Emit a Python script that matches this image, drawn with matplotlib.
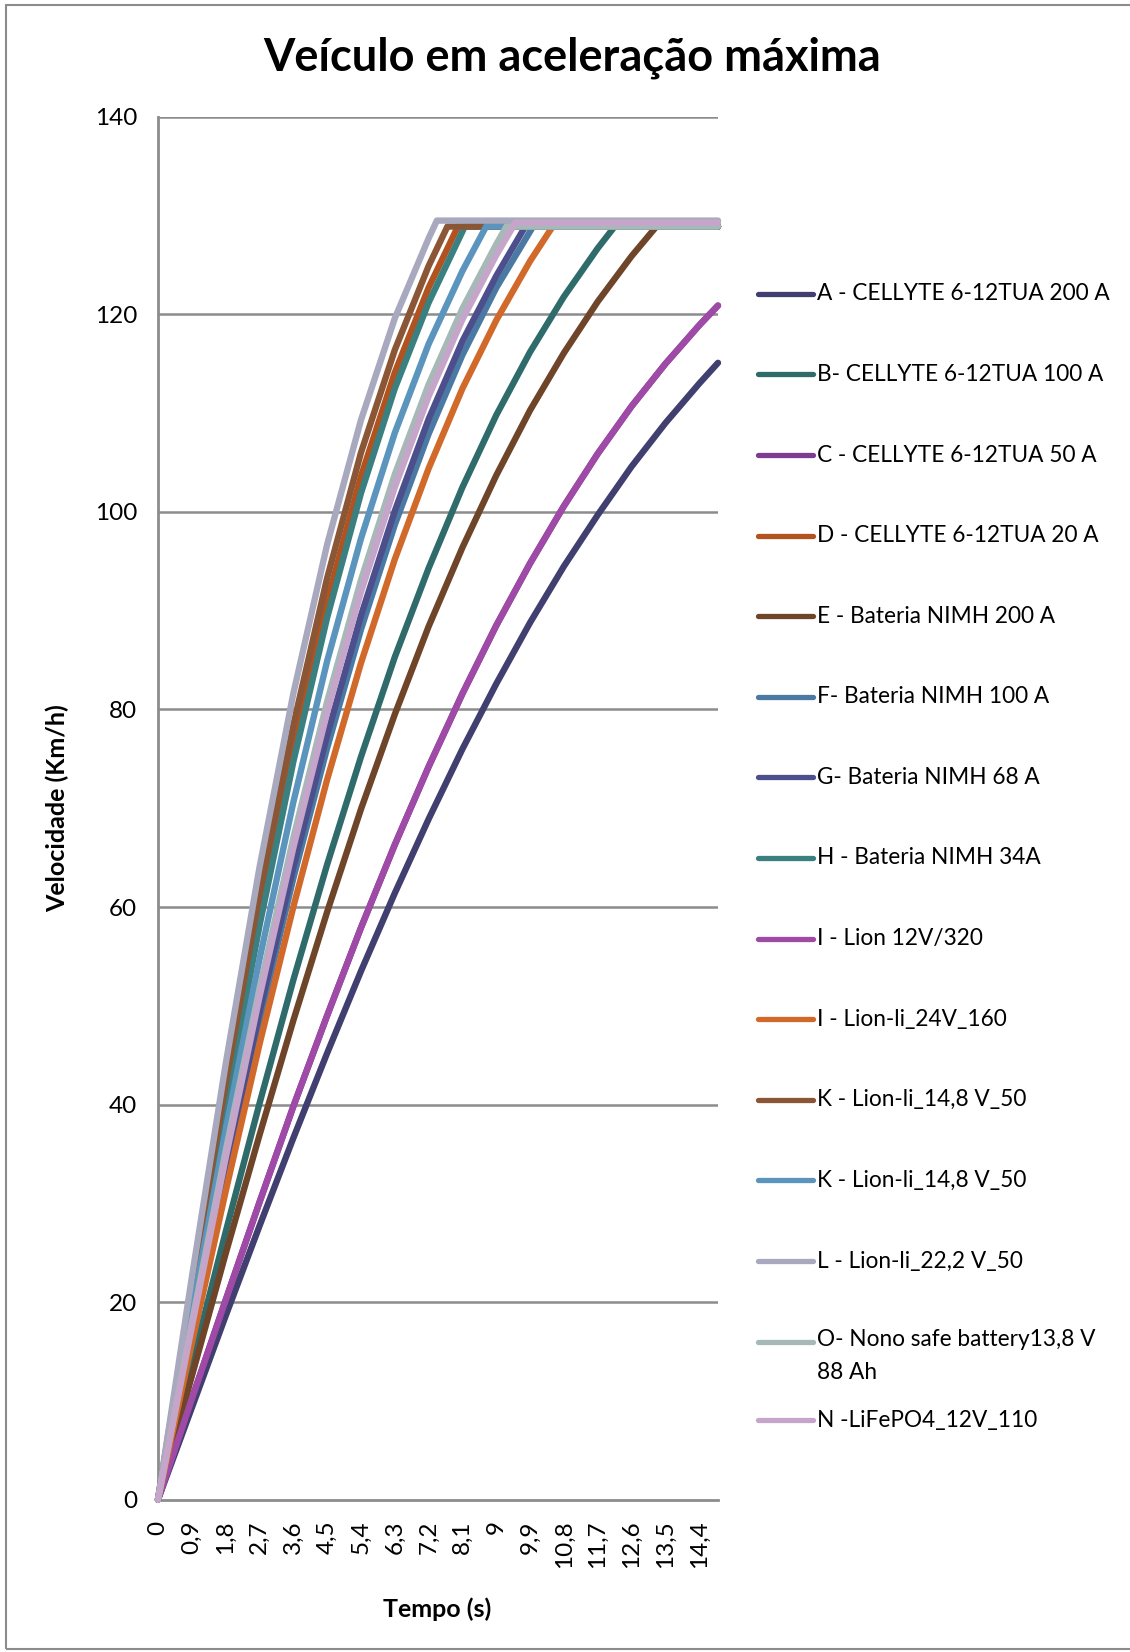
import matplotlib
matplotlib.use("Agg")
import matplotlib.pyplot as plt
from matplotlib.lines import Line2D
from matplotlib.patches import Rectangle

plt.rcParams['font.family'] = ['Lato', 'DejaVu Sans']

# Time axis (s): labelled categories every 0,9 s, last sample at 14,9 s
tempo = [0, 0.9, 1.8, 2.7, 3.6, 4.5, 5.4, 6.3, 7.2, 8.1, 9.0,
         9.9, 10.8, 11.7, 12.6, 13.5, 14.4]
tempo_fim = 14.9

labels = [
    "A - CELLYTE 6-12TUA 200 A",
    "B- CELLYTE 6-12TUA 100 A",
    "C - CELLYTE 6-12TUA 50 A",
    "D - CELLYTE 6-12TUA 20 A",
    "E - Bateria NIMH 200 A",
    "F- Bateria NIMH 100 A",
    "G- Bateria NIMH 68 A",
    "H - Bateria NIMH 34A",
    "I - Lion 12V/320",
    "I - Lion-li_24V_160",
    "K - Lion-li_14,8 V_50",
    "K - Lion-li_14,8 V_50",
    "L - Lion-li_22,2 V_50",
    "O- Nono safe battery13,8 V\n88 Ah",
    "N -LiFePO4_12V_110",
]

colors = ["#403F6F", "#2F6B6B", "#7D3C92", "#B2521E", "#6F4529",
          "#4A7AA3", "#4C4F8C", "#3A8080", "#9E4AA6", "#D0692A",
          "#8A5636", "#5B95BD", "#A8A8BE", "#A7B9B7", "#C6A5CB"]

# Speed (km/h) at each time in `tempo` (+ 14,9 s when the top speed is not reached)
vel_A = [0, 9.3, 18.6, 27.7, 36.6, 45.2, 53.5, 61.4, 68.9, 76.0, 82.6, 88.8,
         94.5, 99.7, 104.6, 109.0, 113.0, 115.1]
vel_B = [0, 13.7, 27.1, 40.1, 52.6, 64.3, 75.2, 85.3, 94.3, 102.5, 109.8, 116.2,
         121.8, 126.7]
vel_C = [0, 10.2, 20.2, 30.1, 39.8, 49.0, 57.9, 66.3, 74.2, 81.6, 88.5, 94.8,
         100.6, 105.9, 110.7, 115.0, 118.9, 120.9]
vel_D = [0, 20.7, 40.7, 59.4, 76.2, 90.9, 103.6, 114.1, 122.7]
vel_E = [0, 12.5, 24.9, 36.9, 48.5, 59.5, 69.9, 79.5, 88.4, 96.4, 103.7, 110.3,
         116.1, 121.3, 125.9]
vel_F = [0, 16.6, 32.8, 48.4, 62.9, 76.1, 88.1, 98.7, 107.9, 115.9, 122.7, 128.4]
vel_G = [0, 17.0, 33.5, 49.3, 64.0, 77.4, 89.5, 100.1, 109.4, 117.3, 123.9]
vel_H = [0, 20.3, 39.8, 58.1, 74.7, 89.3, 101.9, 112.5, 121.2, 128.4]
vel_I = [0, 10.2, 20.2, 30.1, 39.8, 49.0, 57.9, 66.3, 74.2, 81.6, 88.5, 94.8,
         100.6, 105.9, 110.7, 115.0, 118.9, 120.9]
vel_J = [0, 15.8, 31.2, 46.1, 60.0, 72.9, 84.7, 95.2, 104.4, 112.5, 119.4, 125.4]
vel_K1 = [0, 21.5, 42.1, 61.3, 78.4, 93.3, 106.0, 116.4, 124.9]
vel_K2 = [0, 19.0, 37.4, 54.7, 70.6, 84.9, 97.3, 108.0, 117.0, 124.4]
vel_L = [0, 22.5, 44.1, 64.0, 81.6, 96.7, 109.3, 119.6, 127.7]
vel_O = [0, 17.9, 35.3, 51.7, 67.0, 80.8, 93.1, 103.8, 112.9, 120.6, 127.1]
vel_N = [0, 17.5, 34.6, 50.9, 66.0, 79.7, 91.9, 102.5, 111.7, 119.5, 126.0]

# Instant the top speed is reached and the top speed itself (None = not reached)
t_max = [None, 12.15, None, 7.98, 13.26, 9.98, 9.77, 8.16, None, 10.50,
         7.70, 8.73, 7.42, 9.27, 9.51]
v_max = [None, 128.9, None, 128.9, 128.9, 128.9, 128.9, 128.9, None, 128.9,
         128.9, 128.9, 129.5, 128.9, 129.3]

series = [vel_A, vel_B, vel_C, vel_D, vel_E, vel_F, vel_G, vel_H, vel_I,
          vel_J, vel_K1, vel_K2, vel_L, vel_O, vel_N]

W, H = 1130, 1652
fig = plt.figure(figsize=(W / 100, H / 100), dpi=100)
ax = fig.add_axes([158 / W, 1 - 1499.6 / H, (718 - 158) / W, (1499.6 - 116.9) / H])

grid_c = "#8C8C8C"
for yv in range(20, 141, 20):
    ax.axhline(yv, color=grid_c, lw=1.8, zorder=1)

tempos_all = tempo + [tempo_fim]
for vel, tm, vm, c in zip(series, t_max, v_max, colors):
    xs = tempos_all[:len(vel)]
    ys = list(vel)
    if tm is not None:
        xs = xs + [tm, tempo_fim]
        ys = ys + [vm, vm]
    ax.plot(xs, ys, color=c, lw=4.6, solid_capstyle='round',
            solid_joinstyle='round', zorder=3, clip_on=False)

ax.set_xlim(0, tempo_fim)
ax.set_ylim(0, 140)
ax.set_yticks(range(0, 141, 20))
ax.set_xticks(tempo)
ax.set_xticklabels([f"{t:g}".replace('.', ',') for t in tempo],
                   rotation=90, va='top', ha='center')
ax.tick_params(axis='both', length=0, labelsize=17.5, colors='black')
ax.tick_params(axis='x', pad=15)
ax.tick_params(axis='y', pad=15)
for s in ['top', 'right']:
    ax.spines[s].set_visible(False)
for s in ['left', 'bottom']:
    ax.spines[s].set_color(grid_c)
    ax.spines[s].set_linewidth(2)
    ax.spines[s].set_zorder(2)

fig.text(572 / W, 1 - 58 / H, "Veículo em aceleração máxima", ha='center',
         va='center', fontsize=32.5, fontweight='bold')
fig.text(437 / W, 1 - 1609 / H, "Tempo (s)", ha='center', va='center',
         fontsize=18, fontweight='bold')
fig.text(57 / W, 1 - 808 / H, "Velocidade (Km/h)", ha='center', va='center',
         rotation=90, fontsize=18, fontweight='bold')

# Legend entries
leg_y0, leg_step = 293.8, 80.6
for i, (lab, c) in enumerate(zip(labels, colors)):
    y = leg_y0 + i * leg_step
    if i == len(labels) - 1:
        y -= 2
    fy = 1 - y / H
    fig.add_artist(Line2D([758 / W, 813 / W], [fy, fy], color=c, lw=3.8,
                          solid_capstyle='round', transform=fig.transFigure))
    if '\n' in lab:
        fig.text(817 / W, fy + 13 / H, lab, ha='left', va='top', fontsize=16.3,
                 linespacing=1.75)
    else:
        fig.text(817 / W, fy, lab, ha='left', va='center', fontsize=16.3)

# Chart area border
fig.add_artist(Rectangle((6 / W, 1 - 1649 / H), 1.2, (1649 - 5) / H,
                         transform=fig.transFigure, fill=False,
                         edgecolor=grid_c, lw=1.5))

fig.savefig("out.png", dpi=100)
